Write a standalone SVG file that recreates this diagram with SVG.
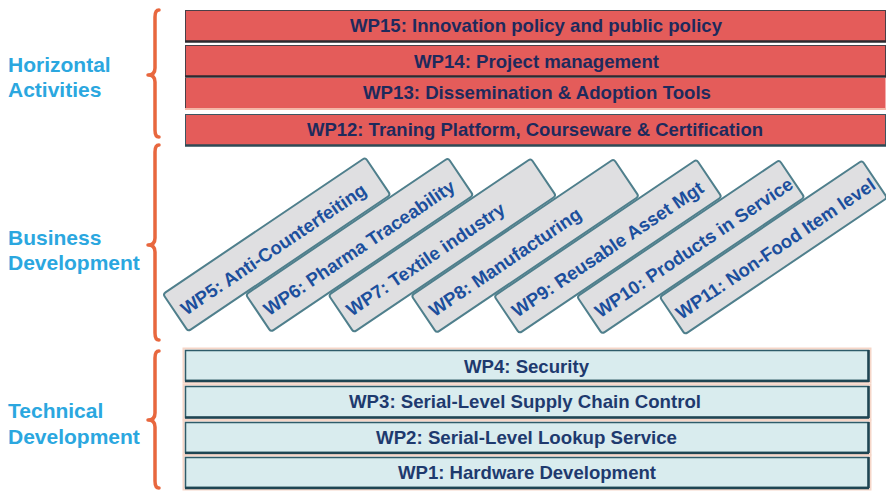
<svg xmlns="http://www.w3.org/2000/svg" width="886" height="491" viewBox="0 0 886 491">
<defs>
<style>
.lbl{font-family:"Liberation Sans",Arial,sans-serif;font-weight:bold;font-size:21px;fill:#2ba7df}
.hbar{fill:#e45c5a;stroke:#4a4048;stroke-width:1}
.hline{stroke:#2c2a30;stroke-width:2.5}
.htxt{font-family:"Liberation Sans",Arial,sans-serif;font-weight:bold;font-size:19px;fill:#1e2a5c;text-anchor:middle}
.tbar{fill:#d9ecee;stroke:#2e5c6a;stroke-width:1.5}
.thalo{fill:none;stroke:#f6d6c8;stroke-width:2}
.tline{stroke:#1f4552;stroke-width:2.5}
.ttxt{font-family:"Liberation Sans",Arial,sans-serif;font-weight:bold;font-size:19px;fill:#1e3a6e;text-anchor:middle}
.rbox{fill:#dfdfe1;stroke:#4f7f8c;stroke-width:2}
.rtxt{font-family:"Liberation Sans",Arial,sans-serif;font-weight:bold;font-size:18.5px;fill:#1c4f9d}
.brace{fill:none;stroke:#e8673e;stroke-width:3.5;stroke-linecap:round;stroke-linejoin:round}
</style>
</defs>
<rect width="886" height="491" fill="#ffffff"/>

<g id="labels">
<text class="lbl" x="8" y="72">Horizontal</text>
<text class="lbl" x="8" y="97">Activities</text>
<text class="lbl" x="8" y="245">Business</text>
<text class="lbl" x="8" y="270">Development</text>
<text class="lbl" x="8" y="418">Technical</text>
<text class="lbl" x="8" y="444">Development</text>
</g>

<g id="braces">
<path class="brace" d="M159,10 Q155,10 155,17 L155,68 Q155,75 148,75 Q155,75 155,82 L155,130 Q155,137 159,137"/>
<path class="brace" d="M159,145 Q155,145 155,152 L155,238 Q155,245 148,245 Q155,245 155,252 L155,333 Q155,340 159,340"/>
<path class="brace" d="M159,351 Q155,351 155,358 L155,413 Q155,420 148,420 Q155,420 155,427 L155,481 Q155,488 159,488"/>
</g>

<g id="wp15">
<rect class="hbar" x="185.5" y="10.5" width="700" height="31"/>
<line class="hline" x1="185" y1="41.5" x2="886" y2="41.5"/>
<text class="htxt" x="536" y="32" textLength="372" lengthAdjust="spacingAndGlyphs">WP15: Innovation policy and public policy</text>
</g>
<g id="wp14">
<rect class="hbar" x="185.5" y="45.5" width="700" height="31"/>
<line class="hline" x1="185" y1="76.5" x2="886" y2="76.5"/>
<text class="htxt" x="536.5" y="67.5" textLength="245" lengthAdjust="spacingAndGlyphs">WP14: Project management</text>
</g>
<g id="wp13">
<rect x="185.5" y="78" width="700" height="30" fill="#e45c5a"/>
<line x1="185.5" y1="78" x2="185.5" y2="108" stroke="#4a4048" stroke-width="1"/>
<line x1="185" y1="109" x2="886" y2="109" stroke="#f4b7a8" stroke-width="2"/>
<text class="htxt" x="537" y="99" textLength="348" lengthAdjust="spacingAndGlyphs">WP13: Dissemination &amp; Adoption Tools</text>
</g>
<g id="wp12">
<rect x="185.5" y="114.5" width="700" height="31" fill="#e45c5a" stroke="#3d5560" stroke-width="1"/>
<line x1="185" y1="145.5" x2="886" y2="145.5" stroke="#2f4a55" stroke-width="2.5"/>
<text class="htxt" x="535" y="136" textLength="456" lengthAdjust="spacingAndGlyphs">WP12: Traning Platform, Courseware &amp; Certification</text>
</g>

<g id="wp5" transform="translate(163,294) rotate(-34)">
<rect class="rbox" x="0" y="0" width="244" height="45" rx="3"/>
<text class="rtxt" x="7" y="31">WP5: Anti-Counterfeiting</text>
</g>
<g id="wp6" transform="translate(245.8,294.5) rotate(-34)">
<rect class="rbox" x="0" y="0" width="244" height="45" rx="3"/>
<text class="rtxt" x="7" y="31">WP6: Pharma Traceability</text>
</g>
<g id="wp7" transform="translate(328.6,295) rotate(-34)">
<rect class="rbox" x="0" y="0" width="244" height="45" rx="3"/>
<text class="rtxt" x="7" y="31">WP7: Textile industry</text>
</g>
<g id="wp8" transform="translate(411.4,295.5) rotate(-34)">
<rect class="rbox" x="0" y="0" width="244" height="45" rx="3"/>
<text class="rtxt" x="7" y="31">WP8: Manufacturing</text>
</g>
<g id="wp9" transform="translate(494.2,296) rotate(-34)">
<rect class="rbox" x="0" y="0" width="244" height="45" rx="3"/>
<text class="rtxt" x="7" y="31">WP9: Reusable Asset Mgt</text>
</g>
<g id="wp10" transform="translate(577,296.5) rotate(-34)">
<rect class="rbox" x="0" y="0" width="244" height="45" rx="3"/>
<text class="rtxt" x="7" y="31">WP10: Products in Service</text>
</g>
<g id="wp11" transform="translate(659.8,297) rotate(-34)">
<rect class="rbox" x="0" y="0" width="244" height="45" rx="3"/>
<text class="rtxt" x="5" y="31" textLength="236" lengthAdjust="spacingAndGlyphs">WP11: Non-Food Item level</text>
</g>

<g id="wp4">
<rect class="thalo" x="183.5" y="348.5" width="687" height="34"/>
<rect class="tbar" x="185.5" y="350.5" width="683" height="30"/>
<line class="tline" x1="185" y1="381" x2="869" y2="381"/>
<line class="tline" x1="868.5" y1="350" x2="868.5" y2="382"/>
<text class="ttxt" x="526.5" y="372.5" textLength="125" lengthAdjust="spacingAndGlyphs">WP4: Security</text>
</g>
<g id="wp3">
<rect class="thalo" x="183.5" y="384.5" width="687" height="35"/>
<rect class="tbar" x="185.5" y="386.5" width="683" height="31"/>
<line class="tline" x1="185" y1="417.5" x2="869" y2="417.5"/>
<line class="tline" x1="868.5" y1="386" x2="868.5" y2="418"/>
<text class="ttxt" x="525" y="408" textLength="352" lengthAdjust="spacingAndGlyphs">WP3: Serial-Level Supply Chain Control</text>
</g>
<g id="wp2">
<rect class="thalo" x="183.5" y="420.5" width="687" height="34"/>
<rect class="tbar" x="185.5" y="422.5" width="683" height="30"/>
<line class="tline" x1="185" y1="453" x2="869" y2="453"/>
<line class="tline" x1="868.5" y1="422" x2="868.5" y2="453"/>
<text class="ttxt" x="526.5" y="443.5" textLength="301" lengthAdjust="spacingAndGlyphs">WP2: Serial-Level Lookup Service</text>
</g>
<g id="wp1">
<rect class="thalo" x="183.5" y="455.5" width="687" height="34"/>
<rect class="tbar" x="185.5" y="457.5" width="683" height="30"/>
<line class="tline" x1="185" y1="488" x2="869" y2="488"/>
<line class="tline" x1="868.5" y1="457" x2="868.5" y2="488"/>
<text class="ttxt" x="527" y="479" textLength="258" lengthAdjust="spacingAndGlyphs">WP1: Hardware Development</text>
</g>
</svg>
